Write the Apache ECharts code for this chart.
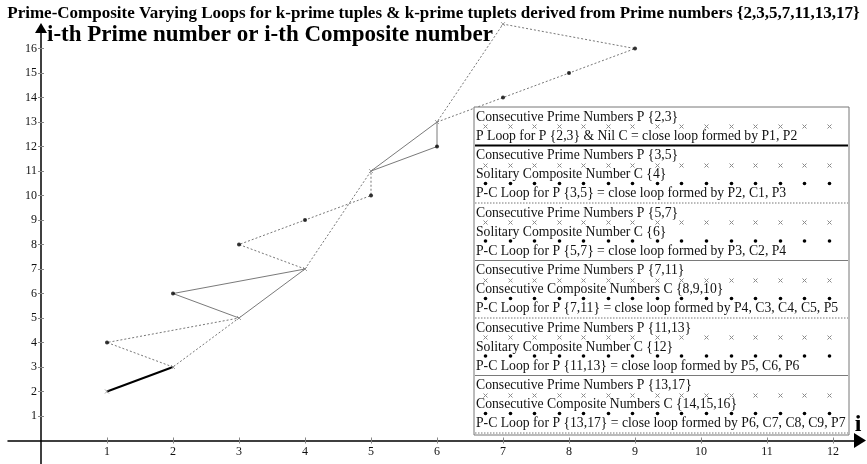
<!DOCTYPE html>
<html>
<head>
<meta charset="utf-8">
<script src="https://cdn.jsdelivr.net/npm/echarts@6/dist/echarts.min.js"></script>
<style>html,body{margin:0;padding:0;background:#fff}#c{width:867px;height:464px}</style>
</head>
<body>
<div id="c"></div>
<script>
// ---- data ----
const titleText = 'Prime-Composite Varying Loops for k-prime tuples & k-prime tuplets derived from Prime numbers {2,3,5,7,11,13,17}';
const yName = 'i-th Prime number or i-th Composite number';
const xName = 'i';
const primes = [2, 3, 5, 7, 11, 13, 17];
const composites = [4, 6, 8, 9, 10, 12, 14, 15, 16];
const xTickValues = [1, 2, 3, 4, 5, 6, 7, 8, 9, 10, 11, 12];
const yTickValues = [1, 2, 3, 4, 5, 6, 7, 8, 9, 10, 11, 12, 13, 14, 15, 16];
const loopMembers = [
  ['P1', 'P2'],
  ['P2', 'C1', 'P3', 'P2'],
  ['P3', 'C2', 'P4', 'P3'],
  ['P4', 'C3', 'C4', 'C5', 'P5', 'P4'],
  ['P5', 'C6', 'P6', 'P5'],
  ['P6', 'C7', 'C8', 'C9', 'P7', 'P6']
];
const loopKinds = ['thick', 'dotted', 'solid', 'dotted', 'solid', 'dotted'];
const legendLines = [
  ['Consecutive Prime Numbers P {2,3}', 'P Loop for P {2,3} & Nil C = close loop formed by P1, P2'],
  ['Consecutive Prime Numbers P {3,5}', 'Solitary Composite Number C {4}', 'P-C Loop for P {3,5} = close loop formed by P2, C1, P3'],
  ['Consecutive Prime Numbers P {5,7}', 'Solitary Composite Number C {6}', 'P-C Loop for P {5,7} = close loop formed by P3, C2, P4'],
  ['Consecutive Prime Numbers P {7,11}', 'Consecutive Composite Numbers C {8,9,10}', 'P-C Loop for P {7,11} = close loop formed by P4, C3, C4, C5, P5'],
  ['Consecutive Prime Numbers P {11,13}', 'Solitary Composite Number C {12}', 'P-C Loop for P {11,13} = close loop formed by P5, C6, P6'],
  ['Consecutive Prime Numbers P {13,17}', 'Consecutive Composite Numbers C {14,15,16}', 'P-C Loop for P {13,17} = close loop formed by P6, C7, C8, C9, P7']
];

// ---- build ----
(function () {
const FONT = '"Liberation Serif", "Times New Roman", serif';
function pt(ref) {
  const idx = parseInt(ref.slice(1), 10);
  return [idx, ref[0] === 'P' ? primes[idx - 1] : composites[idx - 1]];
}
const styleOf = {
  thick: { color: '#000', width: 2, type: 'solid' },
  solid: { color: '#7a7a7a', width: 1, type: 'solid' },
  dotted: { color: '#777', width: 1, type: [2, 2] }
};
const CROSS = 'path://M0,0L10,10M10,0L0,10';

const series = loopMembers.map((m, k) => ({
  type: 'line', name: 'loop' + k,
  data: m.map(pt), symbol: 'none', clip: false, silent: true,
  lineStyle: styleOf[loopKinds[k]], z: 2
}));
series.push({
  type: 'scatter', name: 'P', data: primes.map((v, i) => [i + 1, v]),
  symbol: CROSS, symbolSize: 4, clip: false, z: 3,
  itemStyle: { color: 'none', borderColor: '#888', borderWidth: 1 }
});
series.push({
  type: 'scatter', name: 'C', data: composites.map((v, i) => [i + 1, v]),
  symbol: 'circle', symbolSize: 4, clip: false, z: 3,
  itemStyle: { color: '#000' }
});

// legend box (graphic)
const LX = 474, LY = 107, LW = 375, LH = 328;
const g = [{ type: 'rect', shape: { x: LX, y: LY, width: LW, height: LH }, style: { fill: '#fff', stroke: '#777', lineWidth: 1 }, z: 10 }];
const mk = [];
for (let k = 0; k < 15; k++) mk.push(Math.round(485 + k * 24.55) + 0.5);
let blockTop = LY;
legendLines.forEach((lines, b) => {
  lines.forEach((t, j) => {
    const y = blockTop + 10 + 19 * j;
    g.push({ type: 'text', x: LX + 2, y: y, z: 12, style: { text: t, font: '13.7px ' + FONT, fill: '#111', align: 'left', verticalAlign: 'middle' } });
  });
  const rowX = Math.round(blockTop + 19) + 0.5;
  mk.forEach(x => {
    g.push({ type: 'line', z: 13, shape: { x1: x - 2, y1: rowX - 2, x2: x + 2, y2: rowX + 2 }, style: { stroke: '#8a8a8a', lineWidth: 1 } });
    g.push({ type: 'line', z: 13, shape: { x1: x - 2, y1: rowX + 2, x2: x + 2, y2: rowX - 2 }, style: { stroke: '#8a8a8a', lineWidth: 1 } });
  });
  if (lines.length === 3) {
    const rowC = blockTop + 38;
    mk.forEach(x => {
      g.push({ type: 'circle', z: 13, shape: { cx: x, cy: rowC, r: 1.8 }, style: { fill: '#000' } });
    });
  }
  const sepY = blockTop + 10 + 19 * (lines.length - 1) + 9.5;
  const st = styleOf[loopKinds[b]];
  g.push({ type: 'line', z: 12, shape: { x1: LX + 1, y1: sepY, x2: LX + LW - 1, y2: sepY },
    style: { stroke: st.color, lineWidth: st.width, lineDash: st.type === 'solid' ? null : [1.5, 1.5] } });
  blockTop = sepY;
});
// x-axis name beside its arrow
g.push({ type: 'text', x: 858, y: 425, z: 12, style: { text: xName, font: 'bold 24px ' + FONT, fill: '#000', align: 'center', verticalAlign: 'middle' } });

const chart = echarts.init(document.getElementById('c'), null, { renderer: 'canvas' });
const axisLabelStyle = { fontFamily: FONT, fontSize: 12, color: '#111' };
chart.setOption({
  animation: false,
  backgroundColor: '#fff',
  title: { text: titleText, left: 'center', top: 5, padding: 0,
    textStyle: { fontFamily: FONT, fontWeight: 'bold', fontSize: 17, color: '#000' } },
  grid: { left: 8, top: 28, width: 852, height: 436, containLabel: false, outerBoundsMode: 'none' },
  xAxis: [{
    type: 'value', min: -0.5, max: 12.409, position: 'bottom',
    axisLine: { onZero: true, lineStyle: { color: '#000', width: 1.5 }, symbol: ['none', 'triangle'], symbolSize: [15, 12] },
    axisTick: { show: true, length: 3, customValues: xTickValues, lineStyle: { color: '#888' } },
    axisLabel: { show: true, customValues: xTickValues, margin: -18, ...axisLabelStyle },
    splitLine: { show: false }
  }, {
    type: 'value', min: -0.5, max: 12.409, position: 'bottom',
    axisLine: { show: false, onZero: true },
    axisTick: { show: true, inside: true, length: 3, customValues: xTickValues, lineStyle: { color: '#888' } },
    axisLabel: { show: false }, splitLine: { show: false }
  }],
  yAxis: [{
    type: 'value', min: -0.96, max: 16.84, position: 'left',
    name: yName, nameLocation: 'end', nameGap: -7, nameMoveOverlap: false,
    nameTextStyle: { fontFamily: FONT, fontWeight: 'bold', fontSize: 23, color: '#000', align: 'left', verticalAlign: 'middle', padding: [0, 0, 0, 6] },
    axisLine: { onZero: true, lineStyle: { color: '#000', width: 1.5 }, symbol: ['none', 'triangle'], symbolSize: [12, 10] },
    axisTick: { show: true, length: 3, customValues: yTickValues, lineStyle: { color: '#888' } },
    axisLabel: { show: true, customValues: yTickValues, margin: -29, ...axisLabelStyle },
    splitLine: { show: false }
  }, {
    type: 'value', min: -0.96, max: 16.84, position: 'left',
    axisLine: { show: false, onZero: true },
    axisTick: { show: true, inside: true, length: 3, customValues: yTickValues, lineStyle: { color: '#888' } },
    axisLabel: { show: false }, splitLine: { show: false }
  }],
  series: series,
  graphic: g
});
})();
</script>
</body>
</html>
